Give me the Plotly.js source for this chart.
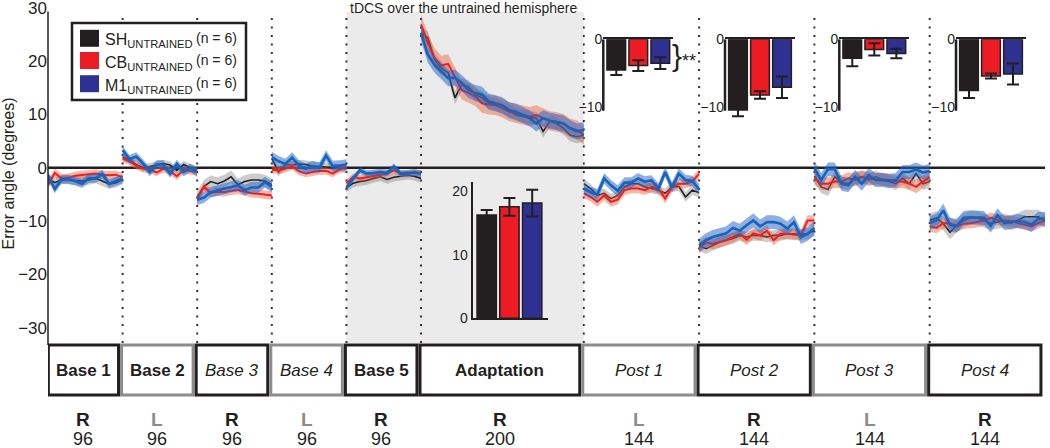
<!DOCTYPE html>
<html><head><meta charset="utf-8">
<script src="https://cdn.plot.ly/plotly-3.0.1.min.js"></script>
<style>html,body{margin:0;padding:0;background:#fff}#chart{width:1050px;height:448px}</style>
</head><body><div id="chart"></div>
<script>
// ---------------- data ----------------
const segments = ['Base 1','Base 2','Base 3','Base 4','Base 5','Adaptation','Post 1','Post 2','Post 3','Post 4'];
const hands    = ['R','L','R','L','R','R','L','R','L','R'];
const trials   = [96,96,96,96,96,200,144,144,144,144];
const groupNames = ['SH','CB','M1'];
const groupN = [6,6,6];

// epoch means (8 trials per epoch), one array per segment
const shEpochs = [
  [-2.0,-2.8,-2.2,-2.2,-2.4,-2.5,-2.3,-2.0,-2.5,-3.1,-2.8,-2.2],
  [2.0,1.5,0.6,0.0,0.2,0.5,0.8,0.5,-0.5,0.6,0.0,-0.4],
  [-5.5,-3.5,-2.6,-3.0,-2.5,-1.7,-3.2,-2.6,-2.3,-2.3,-2.5,-3.2],
  [1.7,-0.8,0.6,0.5,0.7,0.6,0.3,0.2,0.2,0.0,0.0,-0.2],
  [-3.8,-2.9,-2.6,-2.4,-2.0,-1.7,-2.2,-1.8,-1.6,-1.4,-1.6,-2.0],
  [25.3,24.4,20.3,18.7,17.8,13.1,15.6,15.2,13.7,13.1,12.1,11.8,11.2,10.8,9.9,9.6,9.4,9.3,6.8,8.7,8.3,7.4,6.1,5.8,6.1],
  [-3.0,-3.9,-5.2,-4.8,-5.8,-5.2,-3.6,-3.0,-3.0,-3.6,-3.9,-4.2,-4.8,-3.6,-3.5,-5.5,-4.2,-4.7],
  [-14.6,-15.2,-14.6,-14.0,-13.6,-13.3,-12.7,-13.0,-12.7,-12.7,-13.0,-12.7,-12.7,-12.4,-12.4,-12.5,-12.4,-11.8],
  [-1.6,-3.6,-4.1,-1.7,-2.8,-3.0,-2.0,-1.7,-2.3,-1.7,-2.2,-2.6,-3.0,-2.0,-3.0,-1.1,-3.0,-2.6],
  [-9.9,-9.4,-10.5,-12.1,-10.8,-9.9,-9.4,-9.4,-9.9,-10.4,-10.2,-9.9,-10.4,-9.8,-9.2,-9.2,-9.2,-9.9]
];
const cbEpochs = [
  [-3.2,-1.0,-2.0,-1.9,-1.5,-1.4,-1.3,-1.1,-1.3,-1.4,-1.3,-1.8],
  [1.7,1.2,0.4,-0.2,-0.3,-0.9,-0.2,-0.6,-1.6,-0.4,-0.6,-0.8],
  [-5.8,-3.6,-4.7,-4.5,-4.6,-4.3,-4.2,-4.5,-4.8,-4.9,-5.0,-5.2],
  [-0.4,-0.5,-0.2,0.3,-0.7,-1.1,-0.8,-0.6,-0.6,-1.1,-0.3,0.1],
  [-2.9,-1.7,-2.0,-1.8,-1.6,-1.4,-1.1,-0.5,-1.1,-1.2,-0.9,-1.1],
  [26.9,23.4,20.6,19.2,19.5,17.1,14.6,14.0,13.4,12.1,11.8,11.7,11.2,10.5,10.2,9.9,9.6,9.9,9.3,8.8,8.6,8.3,7.4,7.1,6.1],
  [-4.8,-5.5,-6.4,-5.2,-6.4,-6.0,-4.2,-3.9,-3.9,-4.2,-3.6,-3.9,-5.8,-3.6,-3.0,-3.0,-2.6,-1.1],
  [-15.0,-14.0,-14.3,-14.0,-13.6,-13.0,-12.4,-13.5,-12.3,-12.7,-11.8,-13.6,-12.4,-12.4,-12.5,-12.7,-9.9,-9.9],
  [-2.0,-3.0,-3.0,-2.6,-2.6,-2.0,-2.3,-1.7,-2.0,-2.2,-2.2,-2.3,-2.6,-2.6,-3.0,-3.6,-2.6,-1.8],
  [-11.0,-11.3,-10.4,-10.4,-11.0,-10.5,-10.4,-10.2,-9.9,-9.4,-9.8,-9.9,-10.0,-10.4,-10.7,-11.0,-10.4,-9.9]
];
const m1Epochs = [
  [-1.5,-4.0,-2.2,-2.2,-2.5,-3.0,-2.0,-2.0,-1.2,-3.0,-2.5,-2.1],
  [3.3,1.6,2.1,0.8,-0.8,0.6,0.6,-1.1,0.7,-0.8,0.0,-0.9],
  [-6.0,-5.6,-4.6,-4.2,-3.9,-3.6,-3.3,-4.2,-3.7,-3.7,-2.7,-3.6],
  [2.0,1.2,0.7,1.9,0.4,-0.2,0.3,0.0,2.3,0.3,0.4,0.6],
  [-3.8,-2.0,-0.5,-1.1,-1.0,-0.8,-1.0,0.2,-1.1,-1.0,-0.9,-1.1],
  [25.3,21.2,19.3,18.1,16.8,16.9,15.9,14.6,14.0,13.7,12.4,12.1,11.7,10.8,10.5,9.9,9.3,8.3,9.3,8.8,8.6,8.3,7.4,6.8,7.1],
  [-3.9,-4.6,-5.0,-2.0,-3.3,-4.3,-2.8,-2.8,-2.0,-2.6,-2.4,-3.9,-0.8,-3.7,-1.1,-2.3,-2.5,-4.0],
  [-14.6,-13.6,-13.0,-12.7,-12.3,-11.3,-11.8,-10.8,-9.9,-11.0,-10.2,-10.2,-10.5,-11.4,-10.2,-13.0,-12.4,-11.3],
  [-0.1,-2.3,-0.3,-0.3,-3.0,-3.3,-1.7,-3.0,-1.4,-2.3,-2.3,-2.5,-2.3,-0.8,-0.8,-0.3,-0.9,-0.6],
  [-10.4,-9.9,-8.0,-10.7,-10.9,-9.4,-9.3,-9.3,-9.4,-10.9,-8.9,-10.4,-10.2,-10.0,-10.2,-10.7,-9.6,-9.6]
];
// SEM (band half-width) per segment
const shSem = [0.9,0.7,1.2,0.8,0.8,1.2,0.9,1.0,1.2,1.3];
const cbSem = [0.8,0.7,0.8,0.7,0.6,1.8,0.9,1.0,1.2,1.0];
const m1Sem = [0.8,0.8,1.0,1.0,0.6,1.5,1.0,1.3,1.3,1.3];

// inset bar data
const adaptMean = [16.2,17.5,18.1];
const adaptSem  = [0.8,1.4,2.1];
const postMean = [[-4.55,-3.9,-3.55],[-10.5,-8.25,-7.1],[-2.8,-1.5,-2.1],[-7.6,-5.45,-5.15]];
const postSem  = [[0.75,0.8,0.87],[0.9,0.55,1.6],[1.2,0.9,0.7],[1.1,0.37,1.55]];

// ---------------- styling ----------------
const FONT = 'Liberation Sans, Arial, Helvetica, sans-serif';
const INK = '#231f20';
const GREY = '#8c8c8c';
const lineColors = ['#231f20','#ee1d25','#1565bd'];
const lineWidths = [1.6,2.0,2.6];
const bandColors = ['rgba(120,120,120,0.38)','rgba(235,95,60,0.45)','rgba(40,100,200,0.52)'];
const barColors = ['#231f20','#ed1c24','#2e3192'];
const labelStyle = ['b','b','i','i','b','b','i','i','i','i'];

const PX = px => (px - 48) / 997;
const PY = py => (345 - py) / 339;

// x positions: epoch index, consecutive segments share their boundary
const segEpochs = trials.map(t => t / 8);
const segStart = []; let acc = 0;
segEpochs.forEach(n => { segStart.push(acc); acc += n - 1; });
const xMax = acc;
const segEnd = segStart.map((s, i) => s + segEpochs[i] - 1);

const allMeans = [shEpochs, cbEpochs, m1Epochs];
const allSems = [shSem, cbSem, m1Sem];

const traces = [];
for (let g = 0; g < 3; g++) {
  for (let s = 0; s < segments.length; s++) {
    const m = allMeans[g][s];
    const xs = m.map((_, i) => segStart[s] + i);
    const up = m.map(v => v + allSems[g][s]);
    const lo = m.map(v => v - allSems[g][s]);
    traces.push({type:'scatter', mode:'lines', x: xs.concat(xs.slice().reverse()),
      y: up.concat(lo.slice().reverse()), fill:'toself', fillcolor: bandColors[g],
      line:{width:0}, hoverinfo:'skip', showlegend:false});
  }
  for (let s = 0; s < segments.length; s++) {
    const m = allMeans[g][s];
    const xs = m.map((_, i) => segStart[s] + i);
    traces.push({type:'scatter', mode:'lines', x: xs, y: m,
      line:{color: lineColors[g], width: lineWidths[g]}, hoverinfo:'skip', showlegend:false});
  }
}

// inset bars
traces.push({type:'bar', x:[0,1,2], y: adaptMean, xaxis:'x2', yaxis:'y2', width:0.85,
  marker:{color: barColors, line:{color:INK, width:1.5}},
  error_y:{type:'data', array: adaptSem, visible:true, color:INK, thickness:2, width:6}});
for (let k = 0; k < 4; k++) {
  traces.push({type:'bar', x:[0,1,2], y: postMean[k], xaxis:'x'+(k+3), yaxis:'y'+(k+3), width:0.85,
    marker:{color: barColors, line:{color:INK, width:1.5}},
    error_y:{type:'data', array: postSem[k], visible:true, color:INK, thickness:2, width:6}});
}

const shapes = [];
const annotations = [];
// grey tDCS region
shapes.push({type:'rect', xref:'x', yref:'paper', x0: segStart[4], x1: segEnd[5], y0: PY(343), y1: PY(12),
  fillcolor:'#ebebeb', line:{width:0}, layer:'below'});
// zero line
shapes.push({type:'line', xref:'paper', yref:'y', x0:0, x1:1, y0:0, y1:0, line:{color:INK, width:2.5}, layer:'below'});
// dotted boundaries
for (let k = 1; k < segments.length; k++) {
  shapes.push({type:'line', xref:'x', yref:'paper', x0: segStart[k], x1: segStart[k], y0: PY(343), y1: PY(12),
    line:{color:'#333', width:2, dash:'2px,6.5px'}, layer:'below'});
}
// main y axis line
shapes.push({type:'line', xref:'paper', yref:'y', x0:0, x1:0, y0:-33.26, y1:29.3, line:{color:INK, width:1.5}});

// boxes and labels below
for (let k = 0; k < segments.length; k++) {
  const x0 = k === 0 ? 0.05 : segStart[k] - 0.15;
  const x1 = segEnd[k] - 0.6;
  const col = hands[k] === 'R' ? INK : GREY;
  shapes.push({type:'rect', xref:'x', yref:'paper', x0, x1, y0: PY(395), y1: PY(345),
    line:{color: col, width:3}, fillcolor:'white'});
  const tag = labelStyle[k];
  const cx = (x0 + x1) / 2;
  annotations.push({xref:'x', yref:'paper', x: cx, y: PY(370), text:`<${tag}>${segments[k]}</${tag}>`,
    showarrow:false, xanchor:'center', yanchor:'middle', font:{size:17, color:INK}});
  annotations.push({xref:'x', yref:'paper', x: cx, y: PY(419), text:`<b>${hands[k]}</b>`,
    showarrow:false, xanchor:'center', yanchor:'middle', font:{size:19, color: col}});
  annotations.push({xref:'x', yref:'paper', x: cx, y: PY(438.5), text: String(trials[k]),
    showarrow:false, xanchor:'center', yanchor:'middle', font:{size:18, color:INK}, borderpad:0});
}

// y title and top title
annotations.push({xref:'paper', yref:'paper', x: PX(7.5), y: PY(174), text:'Error angle (degrees)', textangle:-90,
  showarrow:false, xanchor:'center', yanchor:'middle', font:{size:16, color:INK}});
annotations.push({xref:'paper', yref:'paper', x: PX(463), y: PY(7.5), text:'tDCS over the untrained hemisphere',
  showarrow:false, xanchor:'center', yanchor:'middle', font:{size:14, color:INK}, borderpad:0});

// legend
shapes.push({type:'rect', xref:'paper', yref:'paper', x0: PX(72), x1: PX(246), y0: PY(100), y1: PY(23),
  line:{color:INK, width:2.5}, fillcolor:'white'});
const legY = [38.3, 60.5, 83.7];
for (let g = 0; g < 3; g++) {
  shapes.push({type:'rect', xref:'paper', yref:'paper', x0: PX(80), x1: PX(99), y0: PY(legY[g]+8.5), y1: PY(legY[g]-8.5),
    line:{width:0}, fillcolor: barColors[g]});
  annotations.push({xref:'paper', yref:'paper', x: PX(103), y: PY(legY[g]+2.5), xanchor:'left', yanchor:'middle',
    showarrow:false, text: `${groupNames[g]}<sub>UNTRAINED</sub>`, font:{size:16, color:INK}});
  annotations.push({xref:'paper', yref:'paper', x: PX(194), y: PY(legY[g]-0.5), xanchor:'left', yanchor:'middle',
    showarrow:false, text: `(n = ${groupN[g]})`, font:{size:14, color:INK}});
}

// significance brace
annotations.push({xref:'paper', yref:'paper', x: PX(677), y: PY(56), text:'}', showarrow:false,
  xanchor:'center', yanchor:'middle', font:{size:30, color:INK}});
annotations.push({xref:'paper', yref:'paper', x: PX(689), y: PY(61), text:'**', showarrow:false,
  xanchor:'center', yanchor:'middle', font:{size:18, color:INK}});

const layout = {
  width:1050, height:448, margin:{l:48, r:5, t:6, b:103},
  paper_bgcolor:'white', plot_bgcolor:'rgba(0,0,0,0)',
  font:{family: FONT, color: INK}, showlegend:false, hovermode:false,
  xaxis:{domain:[0,1], range:[0, xMax], showline:false, showticklabels:false, showgrid:false, zeroline:false, ticks:''},
  yaxis:{domain:[0,1], range:[-33.26, 30.34], tickvals:[-30,-20,-10,0,10,20,30], showgrid:false, zeroline:false,
    showline:false, ticks:'', ticklabeloverflow:'allow', tickfont:{size:17, color:INK}},
  xaxis2:{domain:[PX(472.7), PX(548)], anchor:'y2', range:[-0.615, 2.695], showline:true, linewidth:2, linecolor:INK,
    showticklabels:false, ticks:'', showgrid:false, zeroline:false},
  yaxis2:{domain:[PY(318.3), PY(182)], anchor:'x2', range:[0, 21.4], showline:true, linewidth:2, linecolor:INK,
    tickvals:[0,10,20], ticks:'', showgrid:false, zeroline:false, tickfont:{size:14, color:INK}},
  shapes, annotations
};
const postAxisPx = [603.3, 725, 839.3, 956];
for (let k = 0; k < 4; k++) {
  const n = k + 3;
  layout['xaxis'+n] = {domain:[PX(postAxisPx[k]), PX(postAxisPx[k] + 70)], anchor:'y'+n, range:[-0.59, 2.59],
    side:'top', showline:true, linewidth:2.5, linecolor:INK, showticklabels:false, ticks:'', showgrid:false, zeroline:false};
  layout['yaxis'+n] = {domain:[PY(120.2), PY(39.3)], anchor:'x'+n, range:[-12, 0], showline:false,
    tickvals:[0,-10], ticks:'', showgrid:false, zeroline:false, tickfont:{size:14, color:INK}};
  shapes.push({type:'line', xref:'x'+n+' domain', yref:'y'+n, x0:0, x1:0, y0:0, y1:-10.6, line:{color:INK, width:2.5}});
}

Plotly.newPlot('chart', traces, layout, {staticPlot:true, displayModeBar:false});
</script>
</body></html>
